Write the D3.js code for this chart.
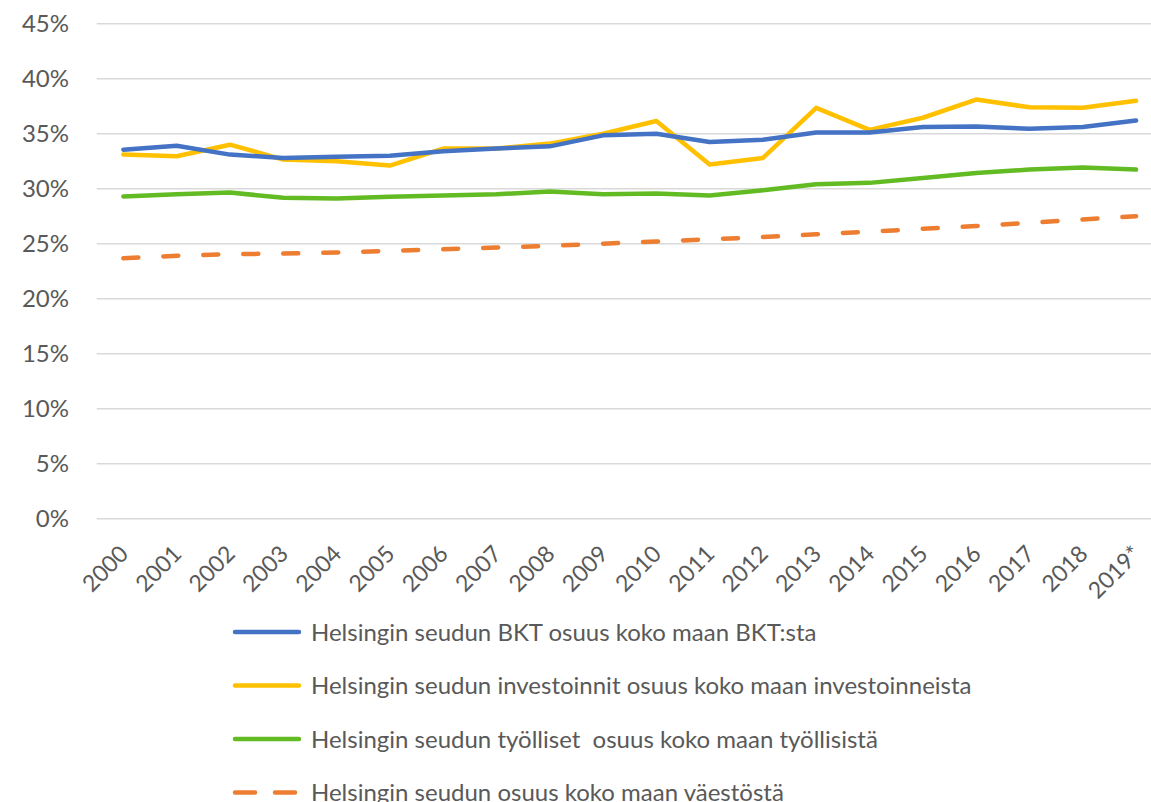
<!DOCTYPE html>
<html>
  <head>
    <meta charset="utf-8">
    <title>Helsingin seudun osuudet</title>
    <style>
        body { margin: 0; background: #fff; }
        text { font-family: Lato, "Open Sans", sans-serif; fill: #595959; }
        .grid line { stroke: #d9d9d9; stroke-width: 1.5px; }
        .line { fill: none; stroke-width: 4.5px; stroke-linejoin: round; stroke-linecap: round; }
    </style>
    <script src="https://d3js.org/d3.v7.min.js"></script>
  </head>
  <body>
    <div id="chart"></div>
    <script>
        var years = ["2000", "2001", "2002", "2003", "2004", "2005", "2006", "2007", "2008", "2009",
                     "2010", "2011", "2012", "2013", "2014", "2015", "2016", "2017", "2018", "2019*"];
        var bkt = [33.55, 33.9, 33.1, 32.8, 32.9, 33.0, 33.4, 33.65, 33.85, 34.85,
                   35.0, 34.25, 34.45, 35.1, 35.1, 35.6, 35.65, 35.45, 35.6, 36.2];
        var investoinnit = [33.1, 32.95, 34.0, 32.65, 32.5, 32.1, 33.65, 33.65, 34.1, 35.0,
                            36.15, 32.2, 32.8, 37.35, 35.35, 36.45, 38.1, 37.4, 37.35, 38.0];
        var tyolliset = [29.3, 29.5, 29.65, 29.17, 29.1, 29.26, 29.38, 29.5, 29.74, 29.5,
                         29.56, 29.38, 29.86, 30.4, 30.53, 30.98, 31.43, 31.74, 31.92, 31.74];
        var vaesto = [23.67, 23.9, 24.05, 24.1, 24.2, 24.35, 24.5, 24.65, 24.8, 25.0,
                      25.2, 25.4, 25.6, 25.85, 26.1, 26.35, 26.6, 26.9, 27.2, 27.5];
        var yTicks = [0, 5, 10, 15, 20, 25, 30, 35, 40, 45];

        var series = [
          { name: "Helsingin seudun BKT osuus koko maan BKT:sta", values: bkt, color: "#4472c4", dash: null },
          { name: "Helsingin seudun investoinnit osuus koko maan investoinneista", values: investoinnit, color: "#ffc000", dash: null },
          { name: "Helsingin seudun työlliset  osuus koko maan työllisistä", values: tyolliset, color: "#62bb22", dash: null },
          { name: "Helsingin seudun osuus koko maan väestöstä", values: vaesto, color: "#ed7d31", dash: "15,25" }
        ];

        var width = 1151, height = 802;
        var svg = d3.select("#chart").append("svg")
            .attr("width", width)
            .attr("height", height);

        // plot area runs past the right edge of the picture, like the original
        var x = d3.scaleBand()
            .domain(years)
            .range([96.7, 96.7 + 53.3 * years.length]);

        var y = d3.scaleLinear()
            .domain([0, 45])
            .range([518.7, 23.7]);

        svg.append("g")
            .attr("class", "grid")
            .selectAll("line")
            .data(yTicks)
            .enter()
            .append("line")
              .attr("x1", x.range()[0])
              .attr("x2", width)
              .attr("y1", function(d) { return y(d); })
              .attr("y2", function(d) { return y(d); });

        svg.append("g")
            .selectAll("text")
            .data(yTicks)
            .enter()
            .append("text")
              .attr("x", 69)
              .attr("y", function(d) { return y(d); })
              .attr("dy", "0.36em")
              .attr("text-anchor", "end")
              .style("font-size", "24px")
              .text(function(d) { return d + "%"; });

        svg.append("g")
            .selectAll("text")
            .data(years)
            .enter()
            .append("text")
              .attr("transform", function(d) {
                return "translate(" + (x(d) + x.bandwidth() / 2 - 5) + ",544) rotate(-45)";
              })
              .attr("text-anchor", "end")
              .attr("dy", "0.7em")
              .style("font-size", "23px")
              .text(function(d) { return d; });

        var line = d3.line()
            .x(function(d, i) { return x(years[i]) + x.bandwidth() / 2; })
            .y(function(d) { return y(d); });

        svg.append("g")
            .selectAll("path")
            .data(series.slice().reverse())
            .enter()
            .append("path")
              .attr("class", "line")
              .attr("d", function(d) { return line(d.values); })
              .style("stroke", function(d) { return d.color; })
              .style("stroke-dasharray", function(d) { return d.dash; });

        var legend = svg.append("g")
            .selectAll("g")
            .data(series)
            .enter()
            .append("g")
              .attr("transform", function(d, i) { return "translate(0," + (632 + i * 53.5) + ")"; });

        legend.append("line")
            .attr("x1", 235)
            .attr("x2", 299)
            .style("stroke", function(d) { return d.color; })
            .style("stroke-width", "4.5px")
            .style("stroke-linecap", "round")
            .style("stroke-dasharray", function(d) { return d.dash ? "20,20" : null; });

        legend.append("text")
            .attr("x", 311)
            .attr("dy", "0.36em")
            .style("font-size", "24px")
            .style("white-space", "pre")
            .text(function(d) { return d.name; });
    </script>
  </body>
</html>
